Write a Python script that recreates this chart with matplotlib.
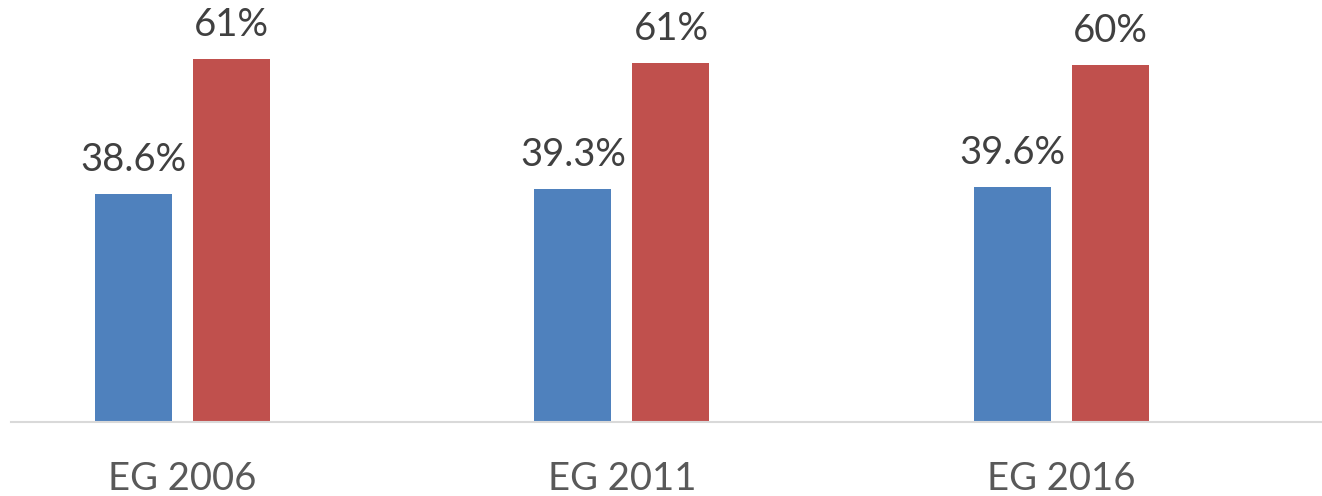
import matplotlib
matplotlib.use("Agg")
import matplotlib.pyplot as plt
import numpy as np

categories = ["EG 2006", "EG 2011", "EG 2016"]
blue_values = [38.6, 39.4, 39.8]
red_values = [61.4, 60.7, 60.4]
blue_labels = ["38.6%", "39.3%", "39.6%"]
red_labels = ["61%", "61%", "60%"]

W, H = 1322, 496
fig = plt.figure(figsize=(W / 100, H / 100), dpi=100)
ax = fig.add_axes([11 / W, 74 / H, (W - 11) / W, 422 / H])

x = np.arange(len(categories))
bw = 0.175
off = 0.1115
ax.bar(x - off, blue_values, bw, color="#4F81BD")
ax.bar(x + off, red_values, bw, color="#C0504D")

font = "Lato"
for xi, v, lab in zip(x - off, blue_values, blue_labels):
    ax.annotate(lab, (xi, v), xytext=(0, 16), textcoords="offset pixels",
                ha="center", va="bottom", fontsize=27.5, color="#404040", family=font)
for xi, v, lab in zip(x + off, red_values, red_labels):
    ax.annotate(lab, (xi, v), xytext=(0, 16), textcoords="offset pixels",
                ha="center", va="bottom", fontsize=27.5, color="#404040", family=font)

ax.set_xlim(-0.390, 2.593)
ax.set_ylim(0, 71.44)
for s in ["top", "right", "left"]:
    ax.spines[s].set_visible(False)
ax.spines["bottom"].set_color("#D9D9D9")
ax.spines["bottom"].set_linewidth(1.5)
ax.set_yticks([])
ax.set_xticks(x)
ax.set_xticklabels(categories, fontsize=27.5, color="#595959", family=font)
ax.tick_params(axis="x", length=0, pad=28)

fig.savefig("out.png", dpi=100)
